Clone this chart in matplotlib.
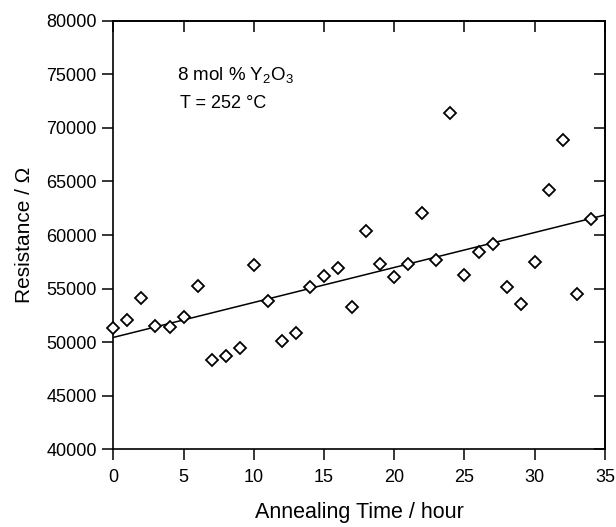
import numpy as np
import matplotlib
matplotlib.use("Agg")
import matplotlib.pyplot as plt

plt.rcParams['font.family'] = ['Liberation Sans', 'DejaVu Sans']
plt.rcParams['mathtext.fontset'] = 'custom'
plt.rcParams['mathtext.rm'] = 'Liberation Sans'

hours = [0, 1, 2, 3, 4, 5, 6, 7, 8, 9, 10, 11, 12, 13, 14, 15, 16, 17,
         18, 19, 20, 21, 22, 23, 24, 25, 26, 27, 28, 29, 30, 31, 32, 33, 34]
resistance = [51360, 52080, 54160, 51520, 51460, 52390, 55280, 48290, 48720,
              49500, 57210, 53880, 50150, 50900, 55130, 56210, 56960, 53320,
              60350, 57280, 56060, 57280, 62090, 57710, 71360, 56280, 58400,
              59140, 55190, 53570, 57460, 64210, 68870, 54480, 61470]
x_ticks = [0, 5, 10, 15, 20, 25, 30, 35]
y_ticks = [40000, 45000, 50000, 55000, 60000, 65000, 70000, 75000, 80000]

fig = plt.figure(figsize=(6.16, 5.27), dpi=100)
ax = fig.add_axes([0.184, 0.1474, 0.798, 0.8133])

x = np.array(hours, dtype=float)
y = np.array(resistance, dtype=float)
slope, intercept = np.polyfit(x, y, 1)
xf = np.array([0, 35.0])
ax.plot(xf, intercept + slope * xf, color='black', lw=1.1, zorder=2)
ax.plot(x, y, linestyle='none', marker='D', ms=6.2, mfc='white', mec='black',
        mew=1.3, zorder=3, clip_on=False)

ax.set_xlim(0, 35)
ax.set_ylim(40000, 80000)
ax.set_xticks(x_ticks)
ax.set_yticks(y_ticks)
ax.tick_params(axis='x', direction='out', length=8, width=1.1, labelsize=13,
               colors='black', pad=6)
ax.tick_params(axis='y', direction='out', length=8, width=1.1, labelsize=13,
               colors='black', pad=4)
for s in ax.spines.values():
    s.set_linewidth(1.2)

secx = ax.secondary_xaxis('top')
secx.set_xticks(x_ticks)
secx.tick_params(direction='in', length=8, width=1.1, labeltop=False)
secx.spines['top'].set_linewidth(1.2)
secy = ax.secondary_yaxis('right')
secy.set_yticks(y_ticks)
secy.tick_params(direction='in', length=8, width=1.1, labelright=False)
secy.spines['right'].set_linewidth(1.2)

ax.set_xlabel('Annealing Time / hour', fontsize=15.5, labelpad=12)
ax.set_ylabel('Resistance / Ω', fontsize=15, labelpad=9)

ax.text(4.5, 74950, r'8 mol % Y$\mathregular{_2}$O$\mathregular{_3}$',
        fontsize=13.5, va='center', ha='left')
ax.text(4.75, 72320, 'T = 252 °C', fontsize=13, va='center', ha='left')

fig.savefig('out.png', dpi=100)
